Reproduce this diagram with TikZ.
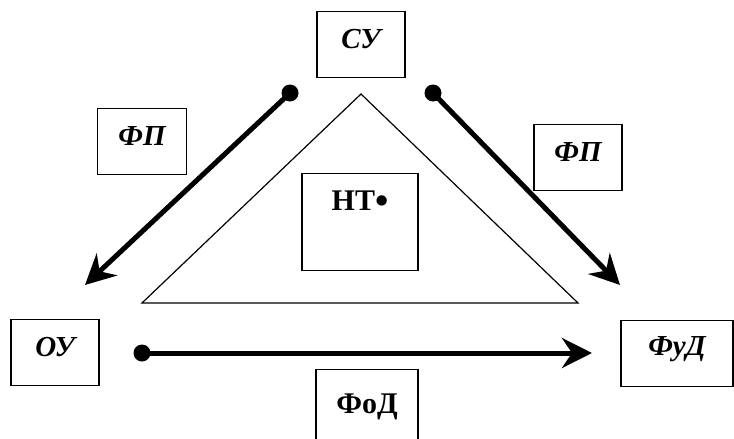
\documentclass[tikz,border=0pt]{standalone}
\usepackage{fontspec}
\setmainfont{Liberation Serif}
\usetikzlibrary{arrows.meta, positioning}

\tikzset{
  box/.style={draw, line width=1.3pt, inner sep=0pt, anchor=north,
    text height=37pt, text depth=29pt,
    font=\fontsize{29}{32}\selectfont\bfseries\itshape},
  plainbox/.style={box, font=\fontsize{30}{32}\selectfont\bfseries},
  flow/.style={line width=5pt, -{Stealth[length=30pt, width=30pt, inset=10pt]}},
  dot/.style={circle, fill, inner sep=0pt, minimum size=17pt},
}

\begin{document}
\begin{tikzpicture}[x=1pt, y=-1pt]
  \useasboundingbox (0,0) rectangle (734,439);
  % the triangle
  \draw[line width=1.2pt] (361,94) -- (142,303) -- (578,303) -- cycle;
  % boxes
  \node[box, minimum width=88pt] (su) at (361,11) {СУ};
  \node[box, minimum width=89pt] (fpl) at (142,108) {ФП};
  \node[box, minimum width=88pt] (fpr) at (578,124) {ФП};
  \node[plainbox, minimum width=116pt, text depth=60pt] (nt) at (360,173)
    {НТ\raisebox{-2.5pt}{\fontsize{38}{38}\selectfont•}};
  \node[box, minimum width=88pt] (ou) at (55,319) {ОУ};
  \node[box, minimum width=112pt, text height=35pt, text depth=31pt] (fud) at (677,320) {ФуД};
  \node[plainbox, minimum width=102pt, text height=44pt, text depth=60pt] (fod) at (367,369) {ФоД};
  % flows
  \node[dot] (dl) at (290,93) {};
  \node[dot] (dr) at (433,93) {};
  \node[dot] (db) at (142,353) {};
  \coordinate (tl) at (85,285);
  \coordinate (tr) at (620,285);
  \coordinate (tb) at (592,353);
  \draw[flow] (dl.center) -- (tl);
  \draw[flow] (dr.center) -- (tr);
  \draw[flow] (db.center) -- (tb);
\end{tikzpicture}
\end{document}
